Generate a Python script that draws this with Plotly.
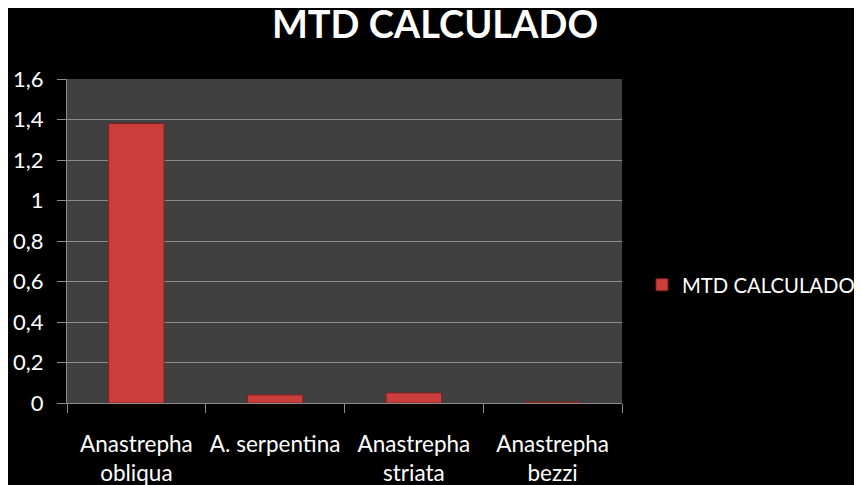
import plotly.graph_objects as go

categories = ["Anastrepha<br>obliqua", "A. serpentina", "Anastrepha<br>striata", "Anastrepha<br>bezzi"]
values = [1.38, 0.04, 0.05, 0.005]
series_name = "MTD CALCULADO"
y_ticks = [0, 0.2, 0.4, 0.6, 0.8, 1.0, 1.2, 1.4, 1.6]
y_tick_labels = ["0", "0,2", "0,4", "0,6", "0,8", "1", "1,2", "1,4", "1,6"]

FONT = "Lato"

fig = go.Figure()
fig.add_trace(go.Bar(
    x=categories, y=values, name=series_name, width=0.4,
    marker=dict(color="#cc3e3c", line=dict(color="#7c2020", width=1)),
))

fig.update_layout(
    width=862, height=485,
    paper_bgcolor="#000000", plot_bgcolor="#404040",
    margin=dict(l=59, r=248, t=71, b=90, autoexpand=False),
    title=dict(text="<b>MTD CALCULADO</b>", x=427/862, xanchor="center",
               y=1 - 30/485, yanchor="bottom",
               font=dict(family=FONT, size=38, color="#ffffff")),
    showlegend=True,
    legend=dict(x=1.036, y=0.364, yanchor="middle", xanchor="left",
                font=dict(family=FONT, size=20.3, color="#ffffff"),
                bgcolor="rgba(0,0,0,0)"),
)
fig.update_yaxes(range=[0, 1.6], tickvals=y_ticks, ticktext=y_tick_labels,
                 showgrid=True, gridcolor="#8c8c8c", gridwidth=1,
                 showline=True, linecolor="#8c8c8c", linewidth=1,
                 ticks="outside", ticklen=9, tickcolor="#8c8c8c",
                 zeroline=False, ticklabelstandoff=9,
                 tickfont=dict(family=FONT, size=22, color="#ffffff"))
fig.update_xaxes(showline=True, linecolor="#8c8c8c", linewidth=1,
                 ticks="outside", ticklen=9, tickcolor="#8c8c8c",
                 tickson="boundaries", showgrid=False, tickangle=0,
                 ticklabelstandoff=21,
                 tickfont=dict(family=FONT, size=22.5, color="#ffffff"))

fig.write_html("out.html")
